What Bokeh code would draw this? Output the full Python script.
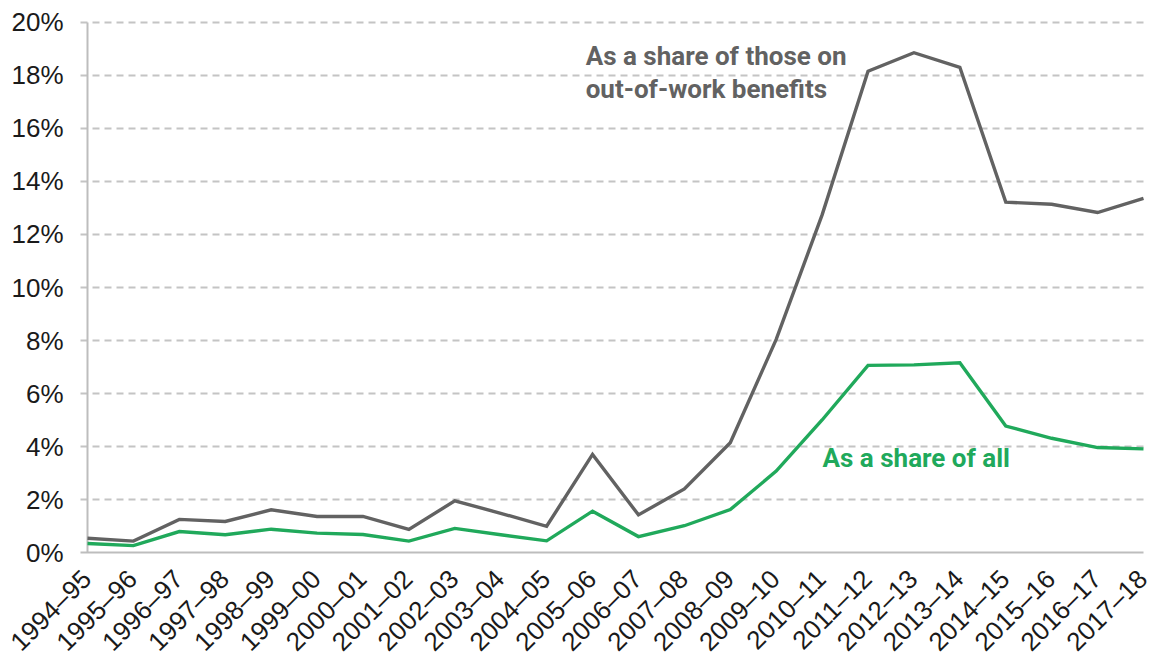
from bokeh.plotting import figure
from bokeh.models import Range1d, Label, FixedTicker, Grid
from bokeh.core.properties import value
from bokeh.embed import file_html
from bokeh.resources import INLINE
import math

years = ["1994–95", "1995–96", "1996–97", "1997–98", "1998–99", "1999–00",
         "2000–01", "2001–02", "2002–03", "2003–04", "2004–05", "2005–06",
         "2006–07", "2007–08", "2008–09", "2009–10", "2010–11", "2011–12",
         "2012–13", "2013–14", "2014–15", "2015–16", "2016–17", "2017–18"]

share_out_of_work = [0.54, 0.43, 1.25, 1.17, 1.61, 1.36, 1.36, 0.87, 1.95, 1.48,
                     0.99, 3.70, 1.42, 2.40, 4.14, 8.04, 12.74, 18.16, 18.86, 18.31,
                     13.22, 13.14, 12.83, 13.36]

share_all = [0.34, 0.26, 0.79, 0.67, 0.88, 0.73, 0.68, 0.43, 0.91, 0.67,
             0.44, 1.56, 0.60, 1.01, 1.62, 3.07, 5.00, 7.06, 7.08, 7.16,
             4.77, 4.31, 3.96, 3.91]

y_ticks = [0, 2, 4, 6, 8, 10, 12, 14, 16, 18, 20]
y_tick_labels = [f"{t}%" for t in y_ticks]

GRAY = "#626262"
GREEN = "#20a95b"
AXIS = "#bdbdbd"

xs = list(range(len(years)))

# Layout: the frame fills the whole canvas so that every text (rotated
# category labels, % labels) is drawn inside it, unclipped.
# 45.913 px per category step; 26.5 px per percentage point.
X0, X1 = -1.8949, 23.1307
Y0, Y1 = -3.962, 20.830
TICK_LEFT = -0.1525  # 7px tick to the left of the axis

p = figure(width=1149, height=657, output_backend="svg", toolbar_location=None,
           x_range=Range1d(X0, X1), y_range=Range1d(Y0, Y1),
           x_axis_location=None, y_axis_location=None,
           min_border_left=0, min_border_right=0, min_border_top=0,
           min_border_bottom=0)
p.outline_line_color = None
p.background_fill_color = "white"
p.border_fill_color = "white"
p.xgrid.grid_line_color = None
p.ygrid.grid_line_color = None

# dashed horizontal gridlines (with 7px tick stubs left of the axis)
p.add_layout(Grid(dimension=1, ticker=FixedTicker(ticks=y_ticks[1:]),
                  cross_bounds=(TICK_LEFT, 23), grid_line_color="#c4c4c4",
                  grid_line_width=1.8, grid_line_dash="7 5"))
# solid baseline at 0%
p.add_layout(Grid(dimension=1, ticker=FixedTicker(ticks=[0]),
                  cross_bounds=(TICK_LEFT, 23), grid_line_color=AXIS,
                  grid_line_width=2))
# vertical axis line from 0% to 20%
p.add_layout(Grid(dimension=0, ticker=FixedTicker(ticks=[0]),
                  cross_bounds=(0, 20), grid_line_color=AXIS,
                  grid_line_width=2))

p.line(xs, share_out_of_work, line_color=GRAY, line_width=3.4, line_join="miter")
p.line(xs, share_all, line_color=GREEN, line_width=3.4, line_join="miter")

# y tick labels
p.text(x=[0] * len(y_ticks), y=y_ticks, text=y_tick_labels,
       text_align="right", text_baseline="middle", x_offset=-24,
       text_font=value("Liberation Sans"), text_font_size="26px",
       text_color="#1a1a1a")

# category labels, rotated 45 degrees under the baseline
p.text(x=xs, y=[0] * len(xs), text=years, angle=math.pi / 4,
       text_align="right", text_baseline="middle", x_offset=-1, y_offset=22,
       text_font=value("Liberation Sans"), text_font_size="26px",
       text_color="#1a1a1a")

# annotations
for txt, yy in [("As a share of those on", 18.75), ("out-of-work benefits", 17.5)]:
    p.add_layout(Label(x=10.85, y=yy, text=txt, text_color=GRAY,
                       text_font="Roboto", text_font_style="bold",
                       text_font_size="26px", text_baseline="middle",
                       text_align="left"))
p.add_layout(Label(x=16.01, y=3.55, text="As a share of all", text_color=GREEN,
                   text_font="Roboto", text_font_style="bold",
                   text_font_size="26px", text_baseline="middle",
                   text_align="left"))

open("out.html", "w").write(file_html(p, INLINE))
